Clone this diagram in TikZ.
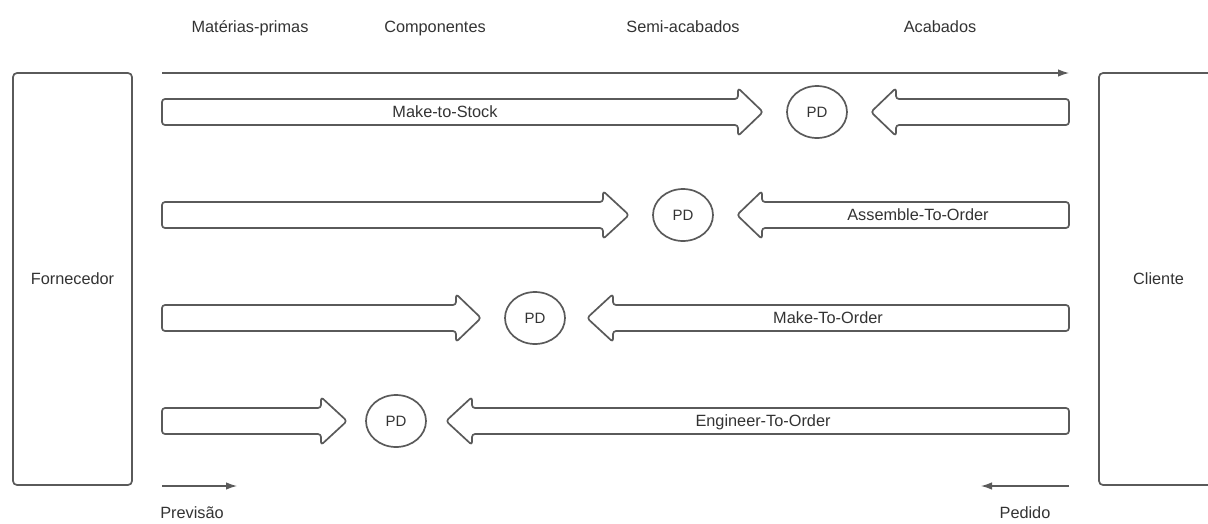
\documentclass[tikz,border=0pt]{standalone}
\usepackage{fontspec}
\setmainfont{Liberation Sans}
\usetikzlibrary{arrows.meta, shapes.geometric}

\definecolor{linegray}{HTML}{5A5A5A}
\definecolor{textgray}{HTML}{333333}

\tikzset{
  outline/.style={draw=linegray, line width=1.7pt, line join=round},
  party/.style={outline, rounded corners=4pt, minimum width=119pt, minimum height=412pt, inner sep=0pt},
  pdnode/.style={ellipse, outline, minimum width=60pt, minimum height=52pt, inner sep=0pt, text=textgray, font=\fontsize{15}{18}\selectfont},
  flow/.style={draw=linegray, line width=1.2pt, -{Latex[length=11pt,width=7.5pt]}},
  lbl/.style={text=textgray, font=\fontsize{16.3}{19}\selectfont, text height=1.5ex, text depth=.3ex, inner sep=0pt, yshift=-2pt}
}

\begin{document}
\begin{tikzpicture}[x=1pt, y=-1pt]
\useasboundingbox (0,0) rectangle (1208,523);

% supplier and customer
\node[party] (forn) at (72.5,279) {};
\node[lbl] at (forn) {Fornecedor};
\node[party] (cli) at (1158.5,279) {};
\node[lbl] at (cli) {Cliente};

% stages
\node[lbl] (mp) at (250,27) {Matérias-primas};
\node[lbl] (comp) at (435,27) {Componentes};
\node[lbl] (semi) at (683,27) {Semi-acabados};
\node[lbl] (acab) at (940,27) {Acabados};

\coordinate (topL) at (162,73);
\coordinate (topR) at (1069,73);
\draw[flow] (topL) -- (topR);

% strategies: y / head back / tip / PD / tip / head back / label / label x
\foreach \y/\rb/\rt/\pd/\lt/\lb/\txt/\tx/\n in {
  112/738/763/817/871/896/Make-to-Stock/445/1,
  215/603/629/683/737/762/Assemble-To-Order/918/2,
  318/456/481/535/587/613/Make-To-Order/828/3,
  421/321/347/396/446/472/Engineer-To-Order/763/4}
{
  \draw[outline, rounded corners=3pt] (162,\y-13) -- (\rb,\y-13) -- (\rb,\y-24) -- (\rt,\y)
    -- (\rb,\y+24) -- (\rb,\y+13) -- (162,\y+13) -- cycle;
  \draw[outline, rounded corners=3pt] (1069,\y-13) -- (\lb,\y-13) -- (\lb,\y-24) -- (\lt,\y)
    -- (\lb,\y+24) -- (\lb,\y+13) -- (1069,\y+13) -- cycle;
  \node[pdnode] (pd\n) at (\pd,\y) {PD};
  \node[lbl] (strat\n) at (\tx,\y) {\txt};
}

% forecast and order
\coordinate (prevL) at (162,486);
\coordinate (prevR) at (237,486);
\draw[flow] (prevL) -- (prevR);
\node[lbl] (prev) at (192,513) {Previsão};

\coordinate (pedR) at (1069,486);
\coordinate (pedL) at (981,486);
\draw[flow] (pedR) -- (pedL);
\node[lbl] (ped) at (1025,513) {Pedido};

\end{tikzpicture}
\end{document}
